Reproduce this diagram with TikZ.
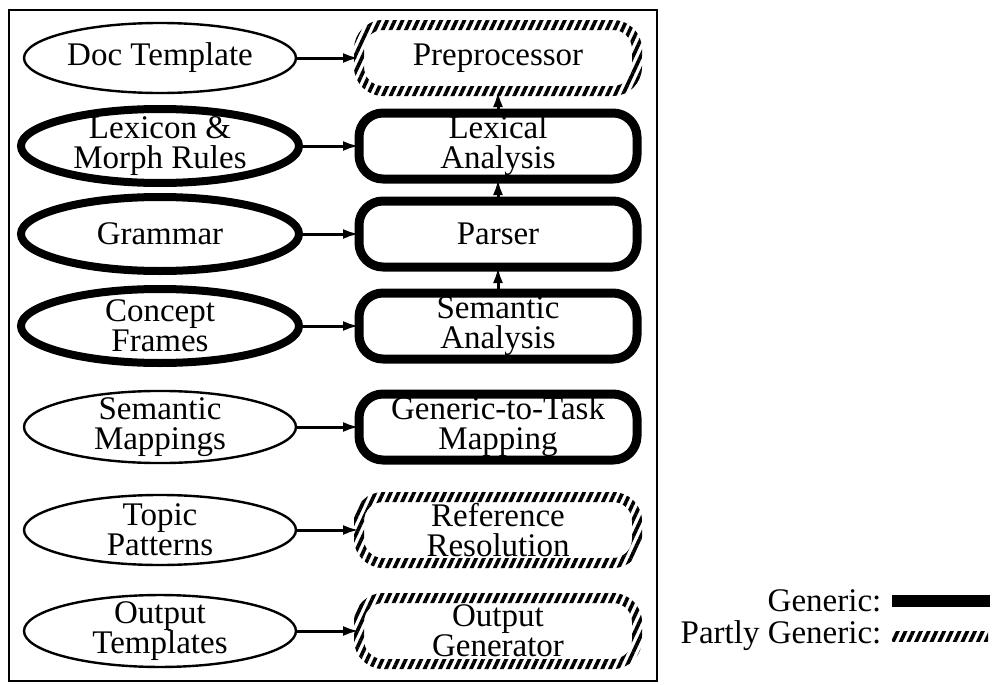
\documentclass[tikz,border=0pt]{standalone}
\usepackage{fontspec}
\setmainfont{Liberation Serif}
\usetikzlibrary{shapes.geometric,arrows.meta,patterns.meta}
\begin{document}
\begin{tikzpicture}[x=0.5pt,y=-0.5pt,>={Latex[length=8pt,width=5pt]},
	every node/.style={font=\fontsize{16.5}{15}\selectfont,align=center,outer sep=0pt},
	src/.style={ellipse,draw,line width=1.2pt,minimum width=136pt,minimum height=35pt,inner xsep=0pt,inner ysep=-2pt},
	srcg/.style={src,line width=4pt,minimum width=139pt,minimum height=37pt},
	stage/.style={rectangle,rounded corners=12pt,minimum width=139pt,minimum height=33pt,inner sep=0pt},
	gen/.style={stage,draw,line width=4.5pt},
	hatch/.style={pattern={Lines[angle=65,distance=3.5pt,line width=1.8pt]}},
	link/.style={->,line width=1.5pt}]
		\useasboundingbox (0,0) rectangle (992,685);
		\draw[line width=1.25pt] (9,10) rectangle (657,681);
		% knowledge sources
		\node[src]  (doc)   at (160,58)  {Doc Template};
		\node[srcg] (lex)   at (160,146) {Lexicon \&\\Morph Rules};
		\node[srcg] (gram)  at (160,234) {Grammar};
		\node[srcg] (frame) at (160,326) {Concept\\Frames};
		\node[src]  (smap)  at (160,427) {Semantic\\Mappings};
		\node[src]  (topic) at (160,530) {Topic\\Patterns};
		\node[src]  (otpl)  at (160,631) {Output\\Templates};
		% processing stages
		\node[stage] (pre)    at (498,58)  {Preprocessor};
		\node[gen]   (lexan)  at (498,146) {Lexical\\Analysis};
		\node[gen]   (parse)  at (498,234) {Parser};
		\node[gen]   (seman)  at (498,326) {Semantic\\Analysis};
		\node[gen]   (g2t)    at (498,427) {Generic-to-Task\\Mapping};
		\node[stage] (refres) at (498,530) {Reference\\Resolution};
		\node[stage] (outgen) at (498,631) {Output\\Generator};
		\foreach \n in {pre,refres,outgen}
			\fill[hatch,even odd rule]
				[rounded corners=14.5pt] ([shift={(-2.5pt,2.5pt)}]\n.north west) rectangle ([shift={(2.5pt,-2.5pt)}]\n.south east)
				[rounded corners=9.5pt] ([shift={(2.5pt,-2.5pt)}]\n.north west) rectangle ([shift={(-2.5pt,2.5pt)}]\n.south east);
		\foreach \a/\b in {doc/pre,lex/lexan,gram/parse,frame/seman,smap/g2t,topic/refres,otpl/outgen}
			\draw[link] (\a) -- (\b);
		\draw[link] (lexan.north) -- (pre.south);
		\draw[link] (parse.north) -- (lexan.south);
		\draw[link] (seman.north) -- (parse.south);
		% legend
		\node[anchor=east] (lgen)  at (888,601) {Generic:};
		\node[anchor=east] (lpart) at (888,636) {Partly Generic:};
		\fill (892,595) rectangle (990,607);
		\fill[hatch] (892,631) rectangle (988,641);
\end{tikzpicture}
\end{document}
